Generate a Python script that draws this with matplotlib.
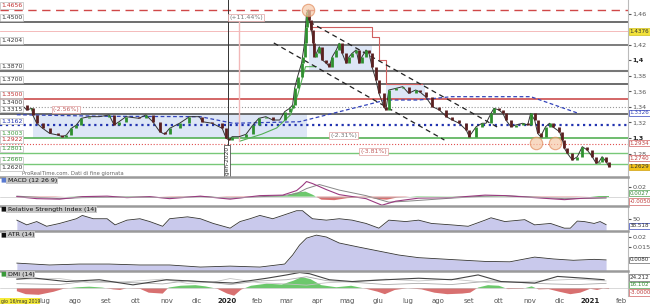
import numpy as np
import pandas as pd
import matplotlib
matplotlib.use("Agg")
import matplotlib.pyplot as plt
import matplotlib.dates as mdates
from matplotlib.patches import Rectangle

# ---- price (closes) ----
price_dates = ["2019-06-03", "2019-06-08", "2019-06-13", "2019-06-18", "2019-06-19", "2019-06-23",
               "2019-06-29", "2019-07-06", "2019-07-14", "2019-07-19", "2019-07-23", "2019-07-28",
               "2019-08-02", "2019-08-07", "2019-08-15", "2019-08-25", "2019-09-04", "2019-09-09",
               "2019-09-14", "2019-09-21", "2019-10-04", "2019-10-11", "2019-10-18", "2019-10-25",
               "2019-10-30", "2019-11-04", "2019-11-14", "2019-11-24", "2019-12-04", "2019-12-07",
               "2019-12-17", "2019-12-27", "2019-12-31", "2020-01-03", "2020-01-06", "2020-01-13",
               "2020-01-20", "2020-01-27", "2020-02-02", "2020-02-09", "2020-02-16", "2020-02-23",
               "2020-02-28", "2020-03-04", "2020-03-07", "2020-03-09", "2020-03-12", "2020-03-16",
               "2020-03-17", "2020-03-19", "2020-03-20", "2020-03-21", "2020-03-23", "2020-03-24",
               "2020-03-26", "2020-03-28", "2020-03-29", "2020-03-31", "2020-04-03", "2020-04-06",
               "2020-04-10", "2020-04-13", "2020-04-16", "2020-04-20", "2020-04-23", "2020-04-26",
               "2020-04-30", "2020-05-03", "2020-05-06", "2020-05-10", "2020-05-13", "2020-05-16",
               "2020-05-20", "2020-05-23", "2020-05-26", "2020-05-30", "2020-06-02", "2020-06-07",
               "2020-06-09", "2020-06-12", "2020-06-19", "2020-06-26", "2020-07-02", "2020-07-09",
               "2020-07-13", "2020-07-19", "2020-07-26", "2020-08-02", "2020-08-09", "2020-08-15",
               "2020-08-22", "2020-08-29", "2020-09-01", "2020-09-08", "2020-09-14", "2020-09-18",
               "2020-09-23", "2020-09-26", "2020-10-01", "2020-10-05", "2020-10-08", "2020-10-13",
               "2020-10-18", "2020-10-25", "2020-10-30", "2020-11-02", "2020-11-06", "2020-11-09",
               "2020-11-12", "2020-11-17", "2020-11-21", "2020-11-24", "2020-12-01", "2020-12-04",
               "2020-12-06", "2020-12-09", "2020-12-14", "2020-12-19", "2020-12-24", "2020-12-29",
               "2021-01-03", "2021-01-07", "2021-01-10", "2021-01-13", "2021-01-17", "2021-01-20"]
price = [1.349, 1.3426, 1.3361, 1.3383, 1.3297, 1.319,
         1.3125, 1.306, 1.3039, 1.3017, 1.3039, 1.3125,
         1.3168, 1.3254, 1.3275, 1.3275, 1.3297, 1.3168,
         1.321, 1.3275, 1.3254, 1.3297, 1.321, 1.3082,
         1.3048, 1.3125, 1.319, 1.3275, 1.3275, 1.321,
         1.319, 1.3125, 1.2996, 1.2974, 1.3017, 1.3017,
         1.3048, 1.3168, 1.3254, 1.3275, 1.3232, 1.3232,
         1.334, 1.3383, 1.3426, 1.3641, 1.3791, 1.3964,
         1.4049, 1.4222, 1.4436, 1.4609, 1.4652, 1.4523,
         1.4394, 1.4222, 1.4049, 1.4093, 1.4178, 1.4006,
         1.3964, 1.392, 1.4049, 1.4135, 1.4222, 1.4093,
         1.3964, 1.4049, 1.4093, 1.4135, 1.3964, 1.4049,
         1.4135, 1.4093, 1.392, 1.3748, 1.3577, 1.3404,
         1.3361, 1.3619, 1.364, 1.3662, 1.3577, 1.3619,
         1.3597, 1.3533, 1.3404, 1.3361, 1.3275, 1.3232,
         1.319, 1.3103, 1.3017, 1.3146, 1.319, 1.319,
         1.3318, 1.3383, 1.3361, 1.3318, 1.3232, 1.3146,
         1.3168, 1.319, 1.3168, 1.3318, 1.3232, 1.306,
         1.3017, 1.3146, 1.319, 1.3146, 1.3082, 1.2974,
         1.2867, 1.2802, 1.2716, 1.2759, 1.2888, 1.2845,
         1.2759, 1.2673, 1.2695, 1.2759, 1.2695, 1.2629]

# moving average (blue dashed)
ma_dates = ["2019-06-03", "2019-09-01", "2019-12-05", "2020-01-07", "2020-03-14", "2020-06-09",
            "2020-07-12", "2020-08-14", "2020-11-02", "2020-12-19"]
ma_vals = [1.330, 1.328, 1.3275, 1.319, 1.321, 1.349, 1.349, 1.3533, 1.3533, 1.3323]

# trailing stop segments
stop_red_dates = ["2020-03-27", "2020-05-20", "2020-05-26", "2020-06-02", "2020-06-09", "2020-07-15"]
stop_red_vals = [1.443, 1.443, 1.430, 1.400, 1.370, 1.370]
stop_green_dates = ["2020-01-14", "2020-02-05", "2020-02-20", "2020-03-05", "2020-03-12", "2020-03-20", "2020-03-31"]
stop_green_vals = [1.296, 1.305, 1.313, 1.330, 1.355, 1.392, 1.392]

# horizontal levels
levels = [1.4656, 1.4500, 1.4376, 1.4204, 1.3870, 1.3700, 1.3500, 1.3400, 1.3315, 1.3162,
          1.3003, 1.2922, 1.2801, 1.2660]
left_labels = ["1.4656", "1.4500", "1.4204", "1.3870", "1.3700", "1.3500", "1.3400", "1.3315",
               "1.3162", "1.3003", "1.2922", "1.2801", "1.2660", "1.2620"]
left_label_vals = [1.4656, 1.4500, 1.4204, 1.3870, 1.3700, 1.3500, 1.3400, 1.3315,
                   1.3162, 1.3003, 1.2922, 1.2801, 1.2660, 1.2560]

# zones
zones = [("2019-06-19", "2020-03-21", 1.3003, 1.3315),
         ("2020-03-24", "2020-05-26", 1.3870, 1.4204),
         ("2020-06-09", "2020-07-18", 1.3500, 1.3700)]
trend_lines = [(("2020-02-17", 1.4226), ("2020-08-07", 1.2974)),
               (("2020-03-24", 1.4497), ("2020-10-01", 1.3129))]
circle_dates = ["2020-03-23", "2020-11-07", "2020-11-27"]
circle_vals = [1.4650, 1.2935, 1.2935]

# ---- MACD ----
macd_dates = ["2019-06-03", "2019-06-23", "2019-07-16", "2019-08-08", "2019-09-02", "2019-09-22",
              "2019-10-15", "2019-11-04", "2019-12-05", "2020-01-04", "2020-02-03", "2020-02-26",
              "2020-03-11", "2020-03-17", "2020-03-21", "2020-03-27", "2020-04-10", "2020-04-23",
              "2020-05-20", "2020-06-05", "2020-06-19", "2020-07-12", "2020-08-14", "2020-09-17",
              "2020-10-07", "2020-11-06", "2020-12-06", "2020-12-26", "2021-01-17"]
macd = [0.0, -0.004, -0.005, 0.0, 0.001, -0.002,
        0.0, -0.004, 0.001, -0.005, 0.002, 0.003,
        0.012, 0.022, 0.030, 0.026, 0.014, 0.004,
        -0.004, -0.017, -0.009, -0.003, -0.002, 0.003,
        0.002, -0.002, -0.006, -0.003, -0.0015]
signal_dates = ["2019-06-03", "2019-07-16", "2019-08-08", "2019-09-22", "2019-11-04", "2019-12-05",
                "2020-01-04", "2020-02-26", "2020-03-11", "2020-03-21", "2020-04-03", "2020-04-23",
                "2020-05-20", "2020-06-12", "2020-07-01", "2020-08-14", "2020-09-17", "2020-10-07",
                "2020-11-06", "2020-12-06", "2021-01-17"]
signal = [0.001, -0.004, -0.002, -0.001, -0.002, 0.0,
          -0.003, 0.002, 0.006, 0.016, 0.024, 0.013,
          0.002, -0.011, -0.009, -0.003, 0.001, 0.002,
          -0.001, -0.004, -0.003]
hist_dates = ["2019-06-03", "2019-07-01", "2019-08-05", "2019-09-05", "2019-10-10", "2019-11-10",
              "2019-12-10", "2020-01-10", "2020-02-10", "2020-03-01", "2020-03-10", "2020-03-20",
              "2020-03-27", "2020-04-05", "2020-04-18", "2020-05-01", "2020-05-20", "2020-06-01",
              "2020-06-10", "2020-06-20", "2020-07-10", "2020-08-10", "2020-09-10", "2020-10-10",
              "2020-11-10", "2020-12-10", "2021-01-10", "2021-01-20"]
hist = [-0.001, -0.0015, 0.001, 0.0005, 0.0008, -0.001,
        0.001, -0.0015, 0.001, 0.002, 0.008, 0.010,
        0.004, -0.006, -0.007, -0.003, -0.001, -0.005,
        -0.006, -0.002, 0.001, 0.0005, 0.001, 0.0008,
        -0.001, -0.0012, 0.0005, 0.0005]

# ---- RSI ----
rsi_dates = ["2019-06-03", "2019-06-13", "2019-06-23", "2019-07-03", "2019-07-16", "2019-08-02",
             "2019-08-08", "2019-08-19", "2019-09-02", "2019-09-10", "2019-09-22", "2019-10-05",
             "2019-10-15", "2019-10-28", "2019-11-04", "2019-11-22", "2019-12-05", "2019-12-18",
             "2020-01-04", "2020-01-14", "2020-01-24", "2020-02-03", "2020-02-16", "2020-02-26",
             "2020-03-11", "2020-03-17", "2020-03-21", "2020-03-27", "2020-04-10", "2020-04-23",
             "2020-05-06", "2020-05-20", "2020-06-02", "2020-06-12", "2020-06-29", "2020-07-12",
             "2020-07-25", "2020-08-14", "2020-08-31", "2020-09-17", "2020-09-23", "2020-10-07",
             "2020-10-27", "2020-11-06", "2020-11-22", "2020-12-06", "2020-12-12", "2020-12-19",
             "2020-12-26", "2021-01-05", "2021-01-11", "2021-01-17"]
rsi = [48, 38, 45, 35, 41, 51, 58, 51, 51, 38, 48, 51, 45, 35, 51, 55, 51, 41,
       31, 45, 51, 58, 51, 58, 68, 68, 61, 51, 48, 51, 48, 41, 31, 48, 45, 48,
       41, 38, 35, 48, 53, 45, 49, 38, 41, 31, 31, 46, 45, 41, 45, 38.5]

# ---- ATR ----
atr_dates = ["2019-06-03", "2019-07-06", "2019-08-05", "2019-09-04", "2019-10-05", "2019-11-04",
             "2019-12-05", "2020-01-04", "2020-02-03", "2020-02-28", "2020-03-07", "2020-03-14",
             "2020-03-21", "2020-03-31", "2020-04-10", "2020-04-23", "2020-05-13", "2020-06-02",
             "2020-06-22", "2020-07-12", "2020-08-14", "2020-09-17", "2020-10-12", "2020-11-06",
             "2020-11-25", "2020-12-15", "2021-01-05", "2021-01-17"]
atr = [0.0063, 0.0053, 0.0058, 0.0058, 0.0053, 0.0053,
       0.0042, 0.0047, 0.0042, 0.0058, 0.0106, 0.0159,
       0.0196, 0.0212, 0.0202, 0.0170, 0.0148, 0.0127,
       0.0106, 0.0092, 0.0082, 0.0072, 0.0070, 0.0095,
       0.0085, 0.0078, 0.0083, 0.0080]

# ---- DMI ----
adx_dates = ["2019-06-03", "2019-06-19", "2019-07-23", "2019-08-25", "2019-09-28", "2019-11-01",
             "2019-12-05", "2020-01-07", "2020-02-10", "2020-03-01", "2020-03-14", "2020-03-24",
             "2020-04-13", "2020-05-06", "2020-06-09", "2020-07-12", "2020-08-14", "2020-09-10",
             "2020-10-03", "2020-11-06", "2020-11-29", "2020-12-26", "2021-01-15"]
adx = [30, 34, 22, 28, 11, 28, 22, 17, 33, 44, 52, 48, 28, 22, 28, 33, 28, 44, 22, 17, 39, 33, 28]
di_dates = ["2019-06-03", "2019-07-16", "2019-08-15", "2019-09-15", "2019-10-28", "2019-11-22",
            "2019-12-18", "2020-01-04", "2020-02-03", "2020-03-01", "2020-03-21", "2020-04-10",
            "2020-05-06", "2020-06-09", "2020-07-12", "2020-08-14", "2020-09-23", "2020-10-27",
            "2020-11-22", "2020-12-19", "2021-01-17"]
di_plus = [15, 12, 24, 20, 14, 25, 18, 12, 24, 28, 38, 25, 20, 12, 16, 12, 24, 18, 14, 12, 16]
di_minus = [30, 32, 18, 20, 30, 16, 20, 32, 18, 14, 10, 18, 22, 30, 24, 30, 18, 22, 26, 30, 24]
dmi_hist_dates = ["2019-06-03", "2019-06-12", "2019-06-25", "2019-07-10", "2019-07-20", "2019-08-03",
                  "2019-08-15", "2019-08-28", "2019-09-08", "2019-09-15", "2019-09-22", "2019-10-05",
                  "2019-10-14", "2019-10-28", "2019-11-03", "2019-11-15", "2019-11-30", "2019-12-10",
                  "2019-12-22", "2020-01-01", "2020-01-08", "2020-01-15", "2020-01-25", "2020-02-10",
                  "2020-02-25", "2020-03-08", "2020-03-16", "2020-03-25", "2020-04-05", "2020-04-20",
                  "2020-05-05", "2020-05-20", "2020-06-01", "2020-06-08", "2020-06-18", "2020-07-01",
                  "2020-07-15", "2020-07-28", "2020-08-10", "2020-08-25", "2020-09-02", "2020-09-10",
                  "2020-09-20", "2020-10-01", "2020-10-10", "2020-10-25", "2020-11-03", "2020-11-10",
                  "2020-11-20", "2020-12-01", "2020-12-12", "2020-12-22", "2021-01-01", "2021-01-08",
                  "2021-01-14", "2021-01-20"]
dmi_hist = [-10, -20, -22, -12, -2, 3, 5, 2, -4, -6, 0, -2,
            -15, -18, 2, 8, 10, 6, -2, -18, -25, -5, 8, 15,
            12, 25, 37, 30, 10, 3, 8, -2, -12, -20, -6, 0,
            -4, -15, -20, -18, -15, 2, 10, 8, -3, -2, 6, -4,
            -3, -12, -20, -15, -2, -6, -1, -3]

month_labels = ["lug", "ago", "set", "ott", "nov", "dic", "2020", "feb", "mar", "apr", "mag", "giu",
                "lug", "ago", "set", "ott", "nov", "dic", "2021", "feb"]

D = lambda s: pd.to_datetime(s)

fig = plt.figure(figsize=(6.5, 3.05), dpi=100)
W = 0.966
ax = fig.add_axes([0, 1 - 177 / 305, W, 177 / 305])
ax_macd = fig.add_axes([0, 1 - 206 / 305, W, 29 / 305], sharex=ax)
ax_rsi = fig.add_axes([0, 1 - 231 / 305, W, 25 / 305], sharex=ax)
ax_atr = fig.add_axes([0, 1 - 271 / 305, W, 40 / 305], sharex=ax)
ax_dmi = fig.add_axes([0, 1 - 296 / 305, W, 25 / 305], sharex=ax)
axes = [ax, ax_macd, ax_rsi, ax_atr, ax_dmi]

for a in axes:
    a.yaxis.tick_right()
    a.tick_params(axis="y", labelsize=4.6, colors="#555", length=2, pad=1.2)
    a.tick_params(axis="x", length=0, labelbottom=False)
    for s in ["left", "bottom"]:
        a.spines[s].set_visible(False)
    a.spines["right"].set_color("#bbb")
    a.spines["right"].set_linewidth(0.8)
    a.spines["top"].set_color("#9a9a9a")
    a.spines["top"].set_linewidth(1.8)
ax.spines["top"].set_visible(False)

ax.set_xlim(D("2019-05-17"), D("2021-02-08"))

# ---- main panel ----
ax.set_ylim(1.2497, 1.478)
for (d0, d1, lo, hi) in zones:
    x0 = mdates.date2num(D(d0))
    x1 = mdates.date2num(D(d1))
    ax.add_patch(Rectangle((x0, lo), x1 - x0, hi - lo, facecolor="#dde6f6", edgecolor="none", zorder=0))

level_style = {
    1.4656: dict(color="#d04848", lw=1.0, ls=(0, (6, 4))),
    1.4500: dict(color="#555555", lw=1.2),
    1.4376: dict(color="#f2b0b0", lw=0.6),
    1.4204: dict(color="#666666", lw=1.2),
    1.3870: dict(color="#777777", lw=1.5),
    1.3700: dict(color="#444444", lw=1.1),
    1.3500: dict(color="#d05a5a", lw=1.3),
    1.3400: dict(color="#999999", lw=0.8, ls=":"),
    1.3315: dict(color="#555555", lw=1.2),
    1.3162: dict(color="#2233b0", lw=1.6, ls=":"),
    1.3003: dict(color="#55b055", lw=1.2),
    1.2922: dict(color="#e05050", lw=0.8, ls=":"),
    1.2801: dict(color="#78c878", lw=1.0),
    1.2660: dict(color="#78c878", lw=1.0),
}
for lv in levels:
    ax.axhline(lv, zorder=1, **level_style[lv])

label_color = {"1.4656": "#c03030", "1.3500": "#c03030", "1.2922": "#c03030",
               "1.3003": "#3a9a3a", "1.2801": "#3a9a3a", "1.2660": "#3a9a3a", "1.3162": "#2233b0"}
for txt, v in zip(left_labels, left_label_vals):
    c = label_color.get(txt, "#333")
    ax.text(0.002, v + 0.0025, txt, transform=ax.get_yaxis_transform(), fontsize=4.4, color=c,
            ha="left", va="bottom", zorder=6,
            bbox=dict(facecolor="white", edgecolor="#bbbbbb", lw=0.5, pad=0.6))

pdates = D(price_dates)
ax.plot(D(ma_dates), ma_vals, color="#3344bb", lw=0.9, ls=(0, (3, 2)), zorder=2)
ax.plot(D(stop_red_dates), stop_red_vals, color="#d06060", lw=0.8, drawstyle="steps-post", zorder=2)
ax.plot(D(stop_green_dates), stop_green_vals, color="#55b055", lw=0.8, zorder=2)
for (d0, p0), (d1, p1) in trend_lines:
    ax.plot([D(d0), D(d1)], [p0, p1], color="#222", lw=0.9, ls=(0, (4, 3)), zorder=3)

ax.plot(pdates, price, color="#333", lw=0.7, zorder=4)
for i in range(1, len(price)):
    up = price[i] >= price[i - 1]
    ax.vlines(pdates[i], min(price[i - 1], price[i]), max(price[i - 1], price[i]),
              color="#2f8f2f" if up else "#5a2020", lw=2.0, zorder=5)

ax.scatter(D(circle_dates), circle_vals, s=80, facecolor="#f6c9a8", edgecolor="#e08a5a",
           alpha=0.7, lw=0.8, zorder=6)

ax.axvline(D("2020-01-02"), color="#333", lw=0.7, zorder=3)
ax.plot([D("2020-01-13"), D("2020-01-13")], [1.296, 1.452], color="#f2b8b8", lw=1.0, zorder=2)
ax.text(D("2020-01-01"), 1.2675, "2-gen-2020", rotation=90, fontsize=4.2, color="#333",
        ha="center", va="center", zorder=7,
        bbox=dict(facecolor="white", edgecolor="#333", lw=0.5, pad=0.6))

box_kw = dict(fontsize=4.5, zorder=7, va="center", ha="left")
ax.text(D("2020-01-03"), 1.4555, "(+11.44%)", color="#777",
        bbox=dict(facecolor="white", edgecolor="#e0a0a0", lw=0.5, pad=0.7), **box_kw)
ax.text(D("2019-07-09"), 1.337, "(-2.56%)", color="#c06060",
        bbox=dict(facecolor="white", edgecolor="#e0a0a0", lw=0.5, pad=0.7), **box_kw)
ax.text(D("2020-04-14"), 1.3035, "(-2.31%)", color="#777",
        bbox=dict(facecolor="white", edgecolor="#e0a0a0", lw=0.5, pad=0.7), **box_kw)
ax.text(D("2020-05-14"), 1.283, "(-3.81%)", color="#c06060",
        bbox=dict(facecolor="white", edgecolor="#e0a0a0", lw=0.5, pad=0.7), **box_kw)
ax.text(0.035, 0.004, "ProRealTime.com. Dati di fine giornata", transform=ax.transAxes,
        fontsize=3.8, color="#666", va="bottom", ha="left")

main_ticks = [1.28, 1.30, 1.32, 1.34, 1.36, 1.38, 1.40, 1.42, 1.46]
ax.set_yticks(main_ticks)
ax.set_yticklabels([("%.2f" % t).rstrip("0").replace(".", ",") for t in main_ticks])
for lab, t in zip(ax.get_yticklabels(), main_ticks):
    if t in (1.30, 1.40):
        lab.set_fontweight("bold")
        lab.set_color("#222")


def right_box(a, v, txt, fc="white", ec="#999", tc="#333"):
    a.text(1.003, v, txt, transform=a.get_yaxis_transform(), fontsize=4.1, color=tc,
           ha="left", va="center", clip_on=False, zorder=8,
           bbox=dict(facecolor=fc, edgecolor=ec, lw=0.5, pad=0.5))


right_box(ax, 1.4376, "1.4376", fc="#f2e23a", ec="#d0c020")
right_box(ax, 1.3326, "1.3326", ec="#3344bb", tc="#3344bb")
right_box(ax, 1.2934, "1.2934", ec="#d06060", tc="#c04040")
right_box(ax, 1.2740, "1.2740", ec="#d06060", tc="#c04040")
right_box(ax, 1.2629, "1.2629", fc="#f2c21a", ec="#d0a010")

# ---- MACD ----
ax_macd.set_ylim(-0.0186, 0.039)
hd = D(hist_dates)
hv = np.array(hist)
ax_macd.fill_between(hd, 0, hv, where=hv >= 0, color="#6cc86c", interpolate=True, lw=0)
ax_macd.fill_between(hd, 0, hv, where=hv < 0, color="#d87070", interpolate=True, lw=0)
ax_macd.plot(D(signal_dates), signal, color="#888", lw=0.7)
ax_macd.plot(D(macd_dates), macd, color="#9a3a80", lw=0.8)
ax_macd.axhline(0, color="#bbb", lw=0.4)
ax_macd.set_yticks([0.02])
ax_macd.set_yticklabels(["0.02"])
right_box(ax_macd, 0.0066, "0.0027", ec="#50a050", tc="#3a8a3a")
right_box(ax_macd, -0.0094, "-0.0050", ec="#d06060", tc="#c04040")

# ---- RSI ----
ax_rsi.set_ylim(25, 78)
ax_rsi.fill_between(D(rsi_dates), 25, rsi, color="#c9c9ec", lw=0)
ax_rsi.plot(D(rsi_dates), rsi, color="#333", lw=0.6)
ax_rsi.set_yticks([50])
right_box(ax_rsi, 36, "38.518", ec="#3344bb", tc="#333")

# ---- ATR ----
ax_atr.set_ylim(0.0021, 0.0234)
ax_atr.fill_between(D(atr_dates), 0.0021, atr, color="#c9c9ec", lw=0)
ax_atr.plot(D(atr_dates), atr, color="#333", lw=0.6)
ax_atr.set_yticks([0.015, 0.02])
ax_atr.set_yticklabels(["0.015", "0.02"])
right_box(ax_atr, 0.0080, "0.0080", ec="#666", tc="#333")

# ---- DMI ----
ax_dmi.set_ylim(-26, 57)
dd = D(dmi_hist_dates)
dv = np.array(dmi_hist)
ax_dmi.fill_between(dd, 0, dv, where=dv >= 0, color="#6cc86c", interpolate=True, lw=0)
ax_dmi.fill_between(dd, 0, dv, where=dv < 0, color="#d87070", interpolate=True, lw=0)
ax_dmi.axhline(0, color="#bbb", lw=0.4)
ax_dmi.plot(D(di_dates), di_plus, color="#aaa", lw=0.6)
ax_dmi.plot(D(di_dates), di_minus, color="#c4c4c4", lw=0.6)
ax_dmi.plot(D(adx_dates), adx, color="#444", lw=0.8)
ax_dmi.set_yticks([])
right_box(ax_dmi, 36, "24.212", ec="#666", tc="#333")
right_box(ax_dmi, 11, "16.102", ec="#50a050", tc="#3a8a3a")
right_box(ax_dmi, -14, "-3.0000", ec="#d06060", tc="#c04040")

# panel titles
titles = [(ax_macd, "MACD (12 26 9)", "#5a7ad0"), (ax_rsi, "Relative Strength Index (14)", "#111"),
          (ax_atr, "ATR (14)", "#111"), (ax_dmi, "DMI (14)", "#3a9a3a")]
for a, t, sq in titles:
    a.text(0.001, 0.97, "\u25a0", transform=a.transAxes, fontsize=4.5, color=sq, va="top", ha="left", zorder=9)
    a.text(0.012, 0.97, t, transform=a.transAxes, fontsize=4.5, color="#111", va="top", ha="left",
           zorder=9, bbox=dict(facecolor="#c8c8c8", edgecolor="none", pad=0.8))

# x axis labels
mticks = pd.date_range("2019-07-01", "2021-02-01", freq="MS")
ax_dmi.set_xticks(mticks)
ax_dmi.tick_params(axis="x", labelbottom=True, labelsize=5, colors="#555", pad=1.5)
ax_dmi.set_xticklabels(month_labels)
for lab, t in zip(ax_dmi.get_xticklabels(), month_labels):
    if t in ("2020", "2021"):
        lab.set_fontweight("bold")
        lab.set_color("#222")

fig.text(0.001, 0.004, "gio 16/mag 2019", fontsize=3.3, color="#333", ha="left", va="bottom",
         bbox=dict(facecolor="#f4ea3a", edgecolor="none", pad=0.3))

fig.savefig("out.png", dpi=100)
